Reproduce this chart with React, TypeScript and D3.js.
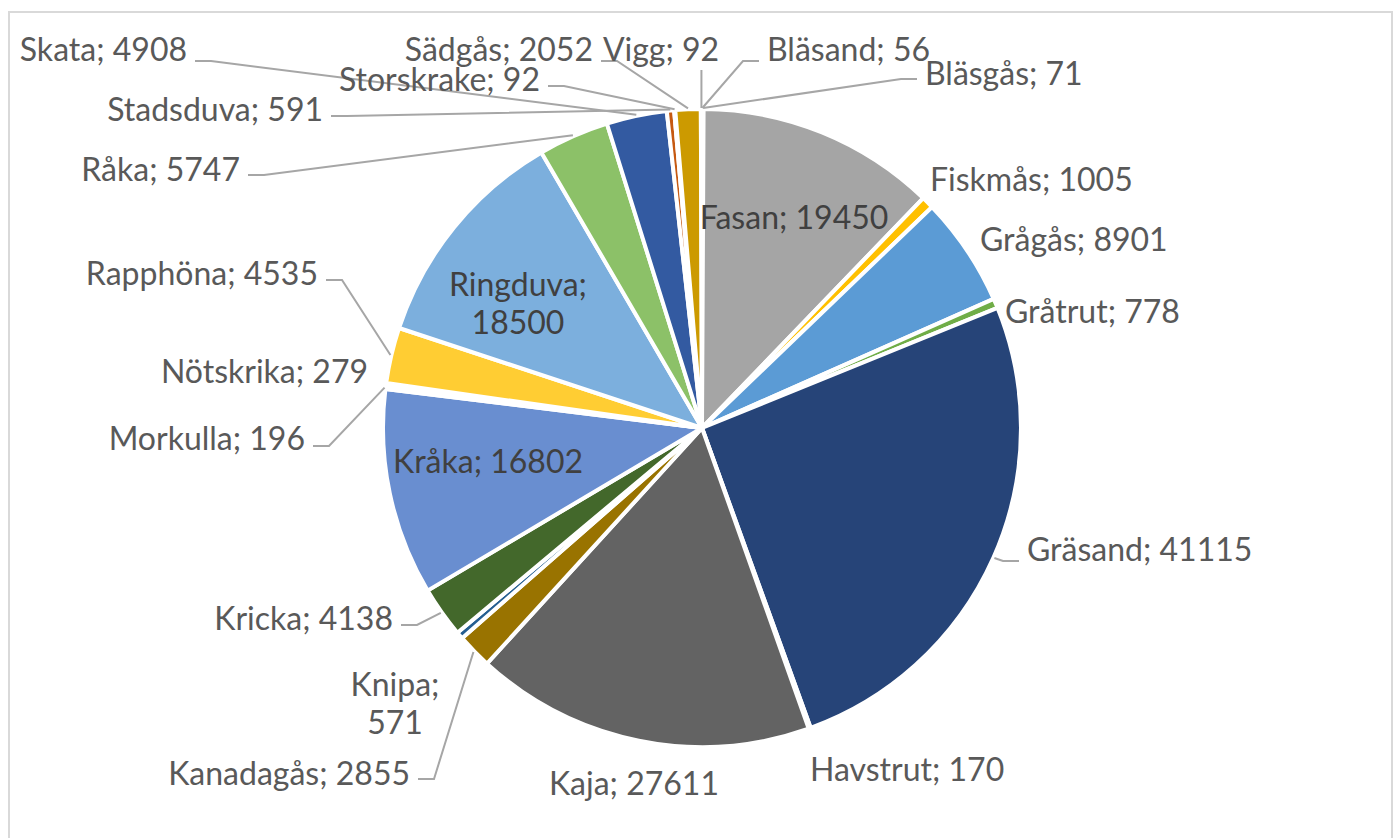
import React from 'react';
import * as d3 from 'd3';

const width = 1399;
const height = 838;
const cx = 702;
const cy = 428;
const radius = 319;

// data, in the order the slices run clockwise from 12 o'clock
const species = [
  'Bläsand', 'Bläsgås', 'Fasan', 'Fiskmås', 'Grågås', 'Gråtrut', 'Gräsand', 'Havstrut',
  'Kaja', 'Kanadagås', 'Knipa', 'Kricka', 'Kråka', 'Morkulla', 'Nötskrika', 'Rapphöna',
  'Ringduva', 'Råka', 'Skata', 'Stadsduva', 'Storskrake', 'Sädgås', 'Vigg',
];
const counts = [
  56, 71, 19450, 1005, 8901, 778, 41115, 170,
  27611, 2855, 571, 4138, 16802, 196, 279, 4535,
  18500, 5747, 4908, 591, 92, 2052, 92,
];
// office palette
const colors = [
  '#4472C4', '#ED7D31', '#A5A5A5', '#FFC000', '#5B9BD5', '#70AD47', '#264478', '#9E480E',
  '#636363', '#997300', '#255E91', '#43682B', '#698ED0', '#F1975A', '#B7B7B7', '#FFCD33',
  '#7CAFDD', '#8CC168', '#335AA1', '#C65911', '#848484', '#CC9A00', '#4A7EC6',
];

// where the data labels sit (excel's own placement), and what kind of leader they get
type Layout = { x: number; y: number; anchor: string; leader?: 'h' | 'v'; split?: boolean; inside?: boolean; ly?: number };
const labelLayout: Layout[] = [
  { x: 767, y: 48, anchor: 'start', leader: 'h', ly: 61 },
  { x: 925, y: 72, anchor: 'start', leader: 'h', ly: 79 },
  { x: 794, y: 216, anchor: 'middle', inside: true },
  { x: 930, y: 178, anchor: 'start' },
  { x: 980, y: 238, anchor: 'start' },
  { x: 1005, y: 310, anchor: 'start' },
  { x: 1027, y: 548, anchor: 'start', leader: 'h', ly: 561 },
  { x: 810, y: 768, anchor: 'start' },
  { x: 634, y: 782, anchor: 'middle' },
  { x: 410, y: 772, anchor: 'end', leader: 'h', ly: 779 },
  { x: 395, y: 683, anchor: 'middle', split: true },
  { x: 393, y: 617, anchor: 'end', leader: 'h', ly: 625 },
  { x: 488, y: 460, anchor: 'middle', inside: true },
  { x: 305, y: 437, anchor: 'end', leader: 'h', ly: 446 },
  { x: 368, y: 370, anchor: 'end' },
  { x: 318, y: 272, anchor: 'end', leader: 'h', ly: 280 },
  { x: 518, y: 283, anchor: 'middle', split: true, inside: true },
  { x: 240, y: 168, anchor: 'end', leader: 'h', ly: 175 },
  { x: 187, y: 48, anchor: 'end', leader: 'h', ly: 61 },
  { x: 323, y: 108, anchor: 'end', leader: 'h', ly: 116 },
  { x: 540, y: 78, anchor: 'end', leader: 'h', ly: 86 },
  { x: 593, y: 48, anchor: 'end', leader: 'h', ly: 61 },
  { x: 661, y: 48, anchor: 'middle', leader: 'v', ly: 70 },
];

const font = 'Lato, "Open Sans", sans-serif';

export default function App() {
  const rows = species.map((name, i) => ({ name, value: counts[i], color: colors[i] }));
  const pie = d3.pie<any>().value((d) => d.value).sort(null).startAngle(0).endAngle(2 * Math.PI);
  const arcs = pie(rows);
  const arc = d3.arc<any>().innerRadius(0).outerRadius(radius);
  const edge = d3.arc<any>().innerRadius(radius + 1).outerRadius(radius + 1);

  const leaders = arcs.map((a, i) => {
    const l = labelLayout[i];
    if (!l.leader) return null;
    const [px, py] = edge.centroid(a);
    const ex = cx + px;
    const ey = cy + py;
    if (l.leader === 'v') {
      return d3.line()([[ex, l.ly!], [ex, ey]]);
    }
    const dir = l.anchor === 'end' ? 1 : -1;
    const x0 = l.x + dir * 8;
    const x1 = x0 + dir * 16;
    return d3.line()([[x0, l.ly!], [x1, l.ly!], [ex, ey]]);
  });

  return (
    <svg width={width} height={height} style={{ position: 'absolute', left: 0, top: 0, background: '#fff' }}>
      <rect x={9} y={12} width={1383} height={900} fill="#fff" stroke="#D9D9D9" strokeWidth={2} />
      <g transform={`translate(${cx},${cy})`}>
        {arcs.map((a, i) => (
          <path key={i} d={arc(a) as string} fill={a.data.color} stroke="#fff" strokeWidth={4} strokeLinejoin="round" />
        ))}
      </g>
      {leaders.map((d, i) =>
        d ? <path key={i} d={d} fill="none" stroke="#A6A6A6" strokeWidth={2} /> : null,
      )}
      <g fontFamily={font} fontSize={32}>
        {arcs.map((a, i) => {
          const l = labelLayout[i];
          const fill = l.inside ? '#404040' : '#595959';
          if (l.split) {
            return (
              <text key={i} x={l.x} y={l.y} textAnchor={l.anchor} dominantBaseline="central" fill={fill}>
                <tspan x={l.x}>{a.data.name};</tspan>
                <tspan x={l.x} dy={38}>{a.data.value}</tspan>
              </text>
            );
          }
          return (
            <text key={i} x={l.x} y={l.y} textAnchor={l.anchor} dominantBaseline="central" fill={fill}>
              {`${a.data.name}; ${a.data.value}`}
            </text>
          );
        })}
      </g>
    </svg>
  );
}
